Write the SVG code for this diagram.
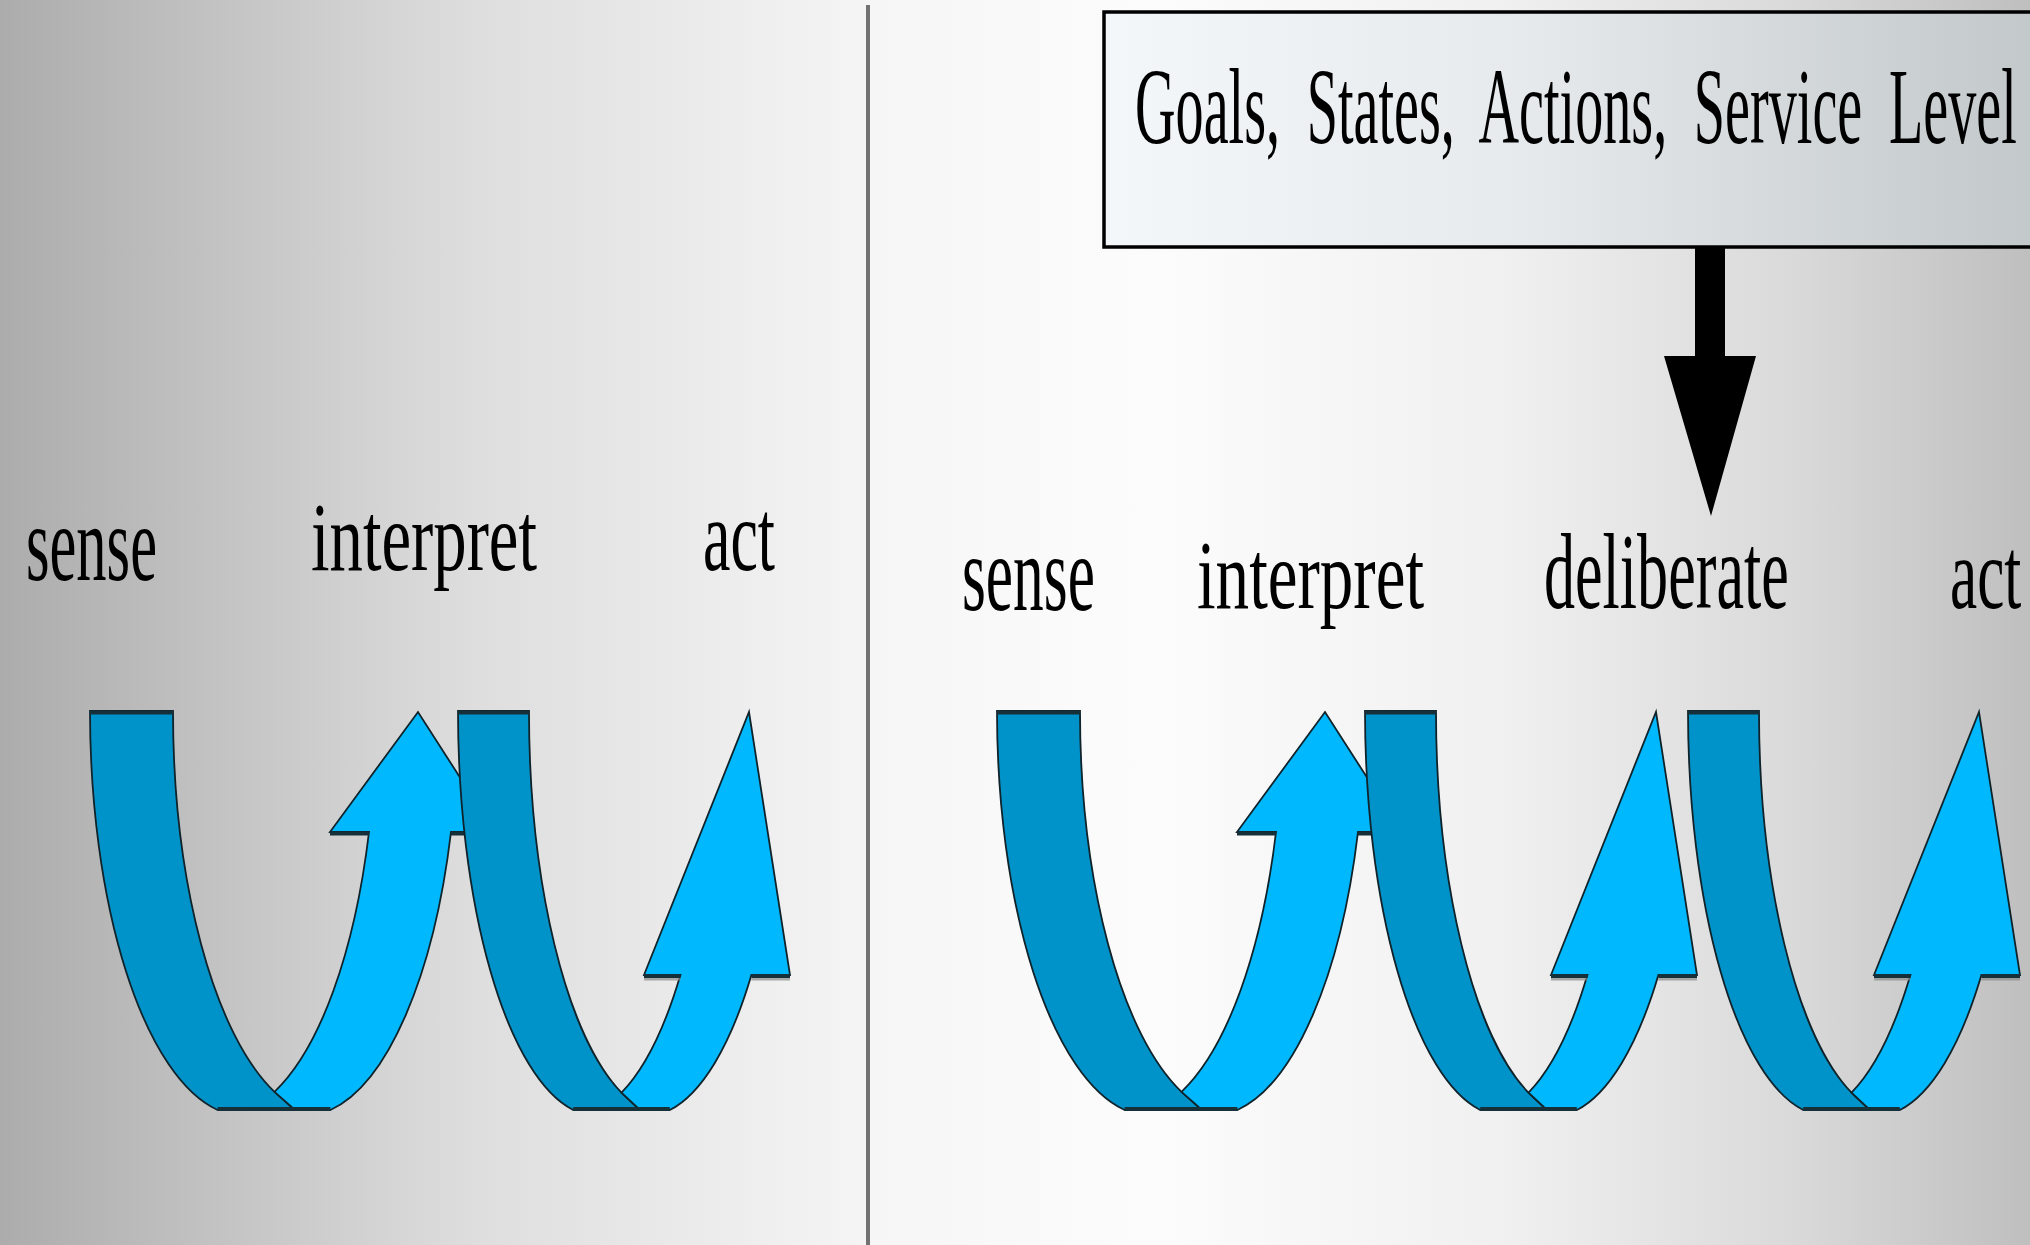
<svg xmlns="http://www.w3.org/2000/svg" width="2030" height="1245" viewBox="0 0 2030 1245">
  <style>
    .lbl { font-family: "Liberation Serif", "Times New Roman", serif; fill: #000; }
    .dark { fill: #0093c9; stroke: #10232b; stroke-width: 1.8; stroke-linejoin: miter; }
    .light { fill: #00b8fd; stroke: #10232b; stroke-width: 1.8; stroke-linejoin: miter; }
    .edge { stroke: #16303a; stroke-width: 4; fill: none; }
    .shadow { stroke: #8a8a8a; stroke-width: 3; fill: none; opacity: 0.7; }
  </style>
  <defs>
    <linearGradient id="bgL" x1="0" y1="0" x2="868" y2="0" gradientUnits="userSpaceOnUse">
      <stop offset="0" stop-color="#acacac"/>
      <stop offset="0.55" stop-color="#dedede"/>
      <stop offset="1" stop-color="#f5f5f5"/>
    </linearGradient>
    <linearGradient id="bgR" x1="868" y1="0" x2="2030" y2="0" gradientUnits="userSpaceOnUse">
      <stop offset="0" stop-color="#f6f6f6"/>
      <stop offset="0.25" stop-color="#fcfcfc"/>
      <stop offset="0.55" stop-color="#f0f0f0"/>
      <stop offset="0.8" stop-color="#d9d9d9"/>
      <stop offset="1" stop-color="#bfbfbf"/>
    </linearGradient>
    <linearGradient id="boxFill" x1="1104" y1="0" x2="2030" y2="0" gradientUnits="userSpaceOnUse">
      <stop offset="0" stop-color="#f3f7fa"/>
      <stop offset="0.45" stop-color="#e6eaed"/>
      <stop offset="1" stop-color="#c3c8cb"/>
    </linearGradient>
    <g id="uShort">
      <path class="dark" d="M90,711 A154,405 0 0 0 217.6,1110 L295,1110 L274.5,1091.8 A154,405 0 0 1 173,711 Z"/>
      <path class="light" d="M274.5,1091.8 A154,405 0 0 0 369,832 L330,832 L418,712 L495,832 L451,832 A154,405 0 0 1 330.4,1110 L295,1110 Z"/>
      <path class="edge" d="M90,712.5 H173 M330,833.5 H369 M451,833.5 H495 M217.6,1109 H330.4"/>
    </g>
    <g id="uLong">
      <path class="dark" d="M458,711 A139,405 0 0 0 573.2,1110 L640,1110 L621.5,1092.7 A139,405 0 0 1 529,711 Z"/>
      <path class="light" d="M621.5,1092.7 A139,405 0 0 0 680.4,975 L644,975 L749,712 L790,975 L751.4,975 A139,405 0 0 1 669.8,1110 L640,1110 Z"/>
      <path class="shadow" d="M644,979 H680.4 M751.4,979 H790"/>
      <path class="edge" d="M458,712.5 H529 M644,976 H680.4 M751.4,976 H790 M573.2,1109 H669.8"/>
    </g>
  </defs>

  <g id="background">
    <rect x="0" y="0" width="868" height="1245" fill="url(#bgL)"/>
    <rect x="868" y="0" width="1162" height="1245" fill="url(#bgR)"/>
    <line x1="868" y1="5" x2="868" y2="1245" stroke="#727272" stroke-width="4"/>
  </g>

  <g id="goals-box">
    <rect x="1104" y="12" width="980" height="235" fill="url(#boxFill)" stroke="#000" stroke-width="3.5"/>
    <text class="lbl" font-size="107" style="word-spacing:24px" transform="translate(1135 143) scale(0.525 1)">Goals, States, Actions, Service Level</text>
  </g>

  <g id="left-sense-interpret"><use href="#uShort"/></g>
  <g id="left-interpret-act"><use href="#uLong"/></g>

  <g id="right-sense-interpret"><use href="#uShort" transform="translate(907 0)"/></g>
  <g id="right-interpret-deliberate"><use href="#uLong" transform="translate(907 0)"/></g>
  <g id="right-deliberate-act"><use href="#uLong" transform="translate(1230 0)"/></g>

  <g id="connectors">
    <path d="M1695,247 L1725,247 L1725,356 L1756,356 L1711,516 L1664,356 L1695,356 Z" fill="#000"/>
  </g>

  <g id="labels">
    <text class="lbl" font-size="108" transform="translate(26 580) scale(0.56 1)">sense</text>
    <text class="lbl" font-size="98" transform="translate(311 570) scale(0.681 1)">interpret</text>
    <text class="lbl" font-size="102" transform="translate(703 570) scale(0.605 1)">act</text>
    <text class="lbl" font-size="108" transform="translate(962 610) scale(0.568 1)">sense</text>
    <text class="lbl" font-size="98" transform="translate(1197 608) scale(0.684 1)">interpret</text>
    <text class="lbl" font-size="108" transform="translate(1544 608) scale(0.575 1)">deliberate</text>
    <text class="lbl" font-size="102" transform="translate(1950 608) scale(0.6 1)">act</text>
  </g>
</svg>
